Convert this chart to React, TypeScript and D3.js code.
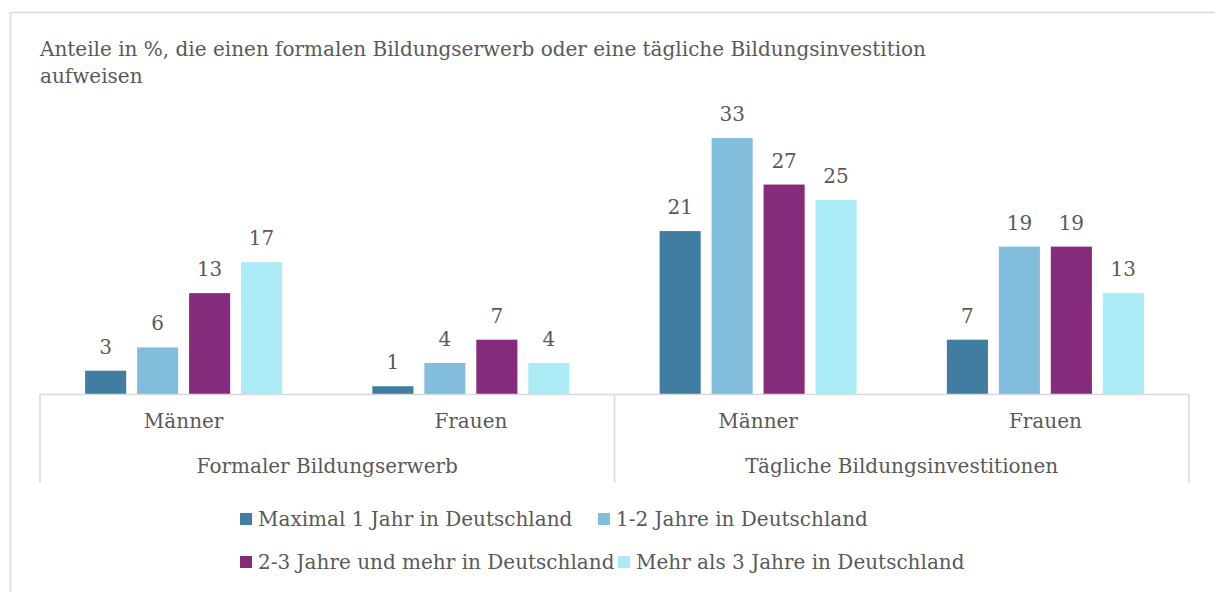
import React from 'react';
import * as d3 from 'd3';

const categories = ['Männer', 'Frauen', 'Männer', 'Frauen'];
const groups = ['Formaler Bildungserwerb', 'Tägliche Bildungsinvestitionen'];
const seriesNames = [
  'Maximal 1 Jahr in Deutschland',
  '1-2 Jahre in Deutschland',
  '2-3 Jahre und mehr in Deutschland',
  'Mehr als 3 Jahre in Deutschland',
];
const maximal1 = [3, 1, 21, 7];
const jahre12 = [6, 4, 33, 19];
const jahre23 = [13, 7, 27, 19];
const mehr3 = [17, 4, 25, 13];
const seriesValues = [maximal1, jahre12, jahre23, mehr3];
const colors = ['#407da1', '#82bddb', '#862a7b', '#abebf6'];

const title = [
  'Anteile in %, die einen formalen Bildungserwerb oder eine tägliche Bildungsinvestition',
  'aufweisen',
];

const W = 1215;
const H = 592;
const font = '"DejaVu Serif", serif';
const fs = 20;
const textColor = '#595959';
const gridColor = '#d9d9d9';

const plotLeft = 40;
const plotRight = 1189;
const baseY = 394;

// legend layout: [row y, x]
const legendPos = [
  [519, 240],
  [519, 598],
  [562, 240],
  [562, 618],
];

const App: React.FC = () => {
  const x = d3.scaleBand<number>()
    .domain(d3.range(categories.length))
    .range([plotLeft, plotRight])
    .padding(0);

  const clusterW = 197;
  const xs = d3.scaleBand<number>()
    .domain(d3.range(seriesNames.length))
    .range([0, clusterW])
    .paddingInner(0.21)
    .paddingOuter(0);

  const y = d3.scaleLinear().domain([0, 33]).range([baseY, 138]);

  const groupX = d3.scaleBand<number>()
    .domain(d3.range(groups.length))
    .range([plotLeft, plotRight]);

  const off = (x.bandwidth() - clusterW) / 2;

  return (
    <svg
      width={W}
      height={H}
      style={{ position: 'fixed', left: 0, top: 0, background: '#fff' }}
      fontFamily={font}
    >
      <rect x={10.5} y={12.5} width={W + 50} height={H + 50} fill="#fff" stroke={gridColor} strokeWidth={1.5} />

      {title.map((t, i) => (
        <text key={i} x={40} y={56 + i * 27} fontSize={fs} fill={textColor}>{t}</text>
      ))}

      {seriesValues.map((vals, s) => (
        <g key={s}>
          {vals.map((v, c) => {
            const bx = (x(c) ?? 0) + off + (xs(s) ?? 0);
            return (
              <g key={c}>
                <rect x={bx} y={y(v)} width={xs.bandwidth()} height={baseY - y(v)} fill={colors[s]} />
                <text
                  x={bx + xs.bandwidth() / 2}
                  y={y(v) - 17}
                  textAnchor="middle"
                  fontSize={fs}
                  fill={textColor}
                >{v}</text>
              </g>
            );
          })}
        </g>
      ))}

      {/* category axis */}
      <line x1={plotLeft} x2={plotRight} y1={baseY + 0.5} y2={baseY + 0.5} stroke={gridColor} strokeWidth={1.5} />
      {[plotLeft, groupX(1) ?? 0, plotRight].map((lx, i) => (
        <line key={i} x1={lx} x2={lx} y1={baseY} y2={483} stroke={gridColor} strokeWidth={1.5} />
      ))}
      {categories.map((c, i) => (
        <text key={i} x={(x(i) ?? 0) + x.bandwidth() / 2} y={428} textAnchor="middle" fontSize={fs} fill={textColor}>{c}</text>
      ))}
      {groups.map((g, i) => (
        <text key={i} x={(groupX(i) ?? 0) + groupX.bandwidth() / 2} y={473} textAnchor="middle" fontSize={fs} fill={textColor}>{g}</text>
      ))}

      {/* legend */}
      {seriesNames.map((n, i) => (
        <g key={i} transform={`translate(${legendPos[i][1]},${legendPos[i][0]})`}>
          <rect x={0} y={-6} width={12} height={12} fill={colors[i]} />
          <text x={18} y={7} fontSize={fs} fill={textColor}>{n}</text>
        </g>
      ))}
    </svg>
  );
};

export default App;
